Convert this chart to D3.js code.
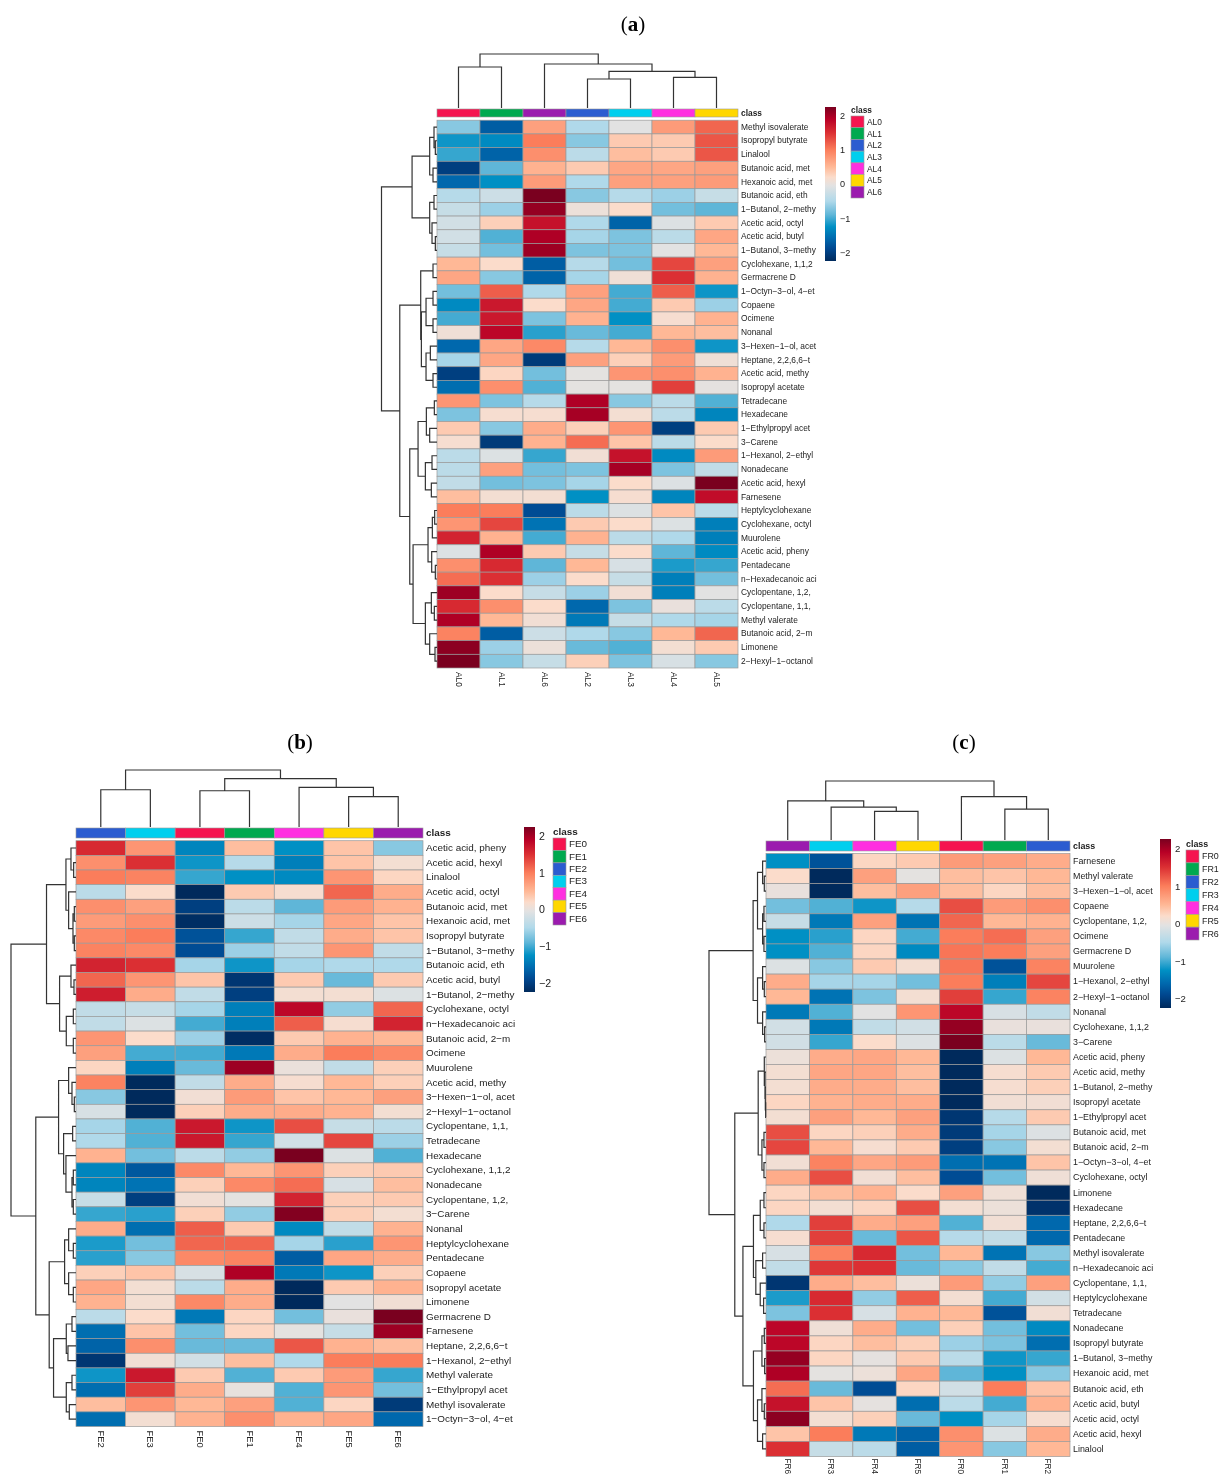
<!DOCTYPE html>
<html>
<head>
<meta charset="utf-8">
<script src="https://cdn.jsdelivr.net/npm/d3@7"></script>
<style>
  html, body { margin: 0; background: #fff; }
  svg { display: block; filter: blur(0.45px); }
  text { font-family: "Liberation Sans", Arial, sans-serif; fill: #222; }
  .title { font-family: "Liberation Serif", serif; font-size: 21px; fill: #000; }
</style>
</head>
<body>
<div id="graph"></div>
<script>
"use strict";

// Panel a
const alCols = ["AL0", "AL1", "AL6", "AL2", "AL3", "AL4", "AL5"];
const alRows = ["Methyl isovalerate", "Isopropyl butyrate", "Linalool", "Butanoic acid, met", "Hexanoic acid, met", "Butanoic acid, eth", "1−Butanol, 2−methy", "Acetic acid, octyl", "Acetic acid, butyl", "1−Butanol, 3−methy", "Cyclohexane, 1,1,2", "Germacrene D", "1−Octyn−3−ol, 4−et", "Copaene", "Ocimene", "Nonanal", "3−Hexen−1−ol, acet", "Heptane, 2,2,6,6−t", "Acetic acid, methy", "Isopropyl acetate", "Tetradecane", "Hexadecane", "1−Ethylpropyl acet", "3−Carene", "1−Hexanol, 2−ethyl", "Nonadecane", "Acetic acid, hexyl", "Farnesene", "Heptylcyclohexane", "Cyclohexane, octyl", "Muurolene", "Acetic acid, pheny", "Pentadecane", "n−Hexadecanoic aci", "Cyclopentane, 1,2,", "Cyclopentane, 1,1,", "Methyl valerate", "Butanoic acid, 2−m", "Limonene", "2−Hexyl−1−octanol"];
const alValues = [
  [-0.7, -1.7, 0.7, -0.5, -0.05, 0.75, 1.15],
  [-1.2, -1.3, 1.0, -0.7, 0.35, 0.35, 1.25],
  [-1.05, -1.65, 0.85, -0.4, 0.45, 0.35, 1.25],
  [-2.0, -0.9, 0.55, 0.35, 0.65, 0.65, 0.7],
  [-1.6, -1.25, 0.75, -0.5, 0.7, 0.7, 0.75],
  [-0.45, -0.25, 2.3, -0.7, -0.45, -0.6, -0.3],
  [-0.3, -0.6, 2.1, 0.05, 0.2, -0.8, -0.9],
  [-0.2, 0.3, 1.75, -0.5, -1.65, -0.1, 0.35],
  [-0.2, -0.95, 1.95, -0.55, -0.75, -0.4, 0.65],
  [-0.3, -0.8, 2.05, -0.75, -0.75, -0.05, 0.5],
  [0.5, 0.2, -1.7, -0.45, -0.8, 1.35, 0.7],
  [0.65, -0.7, -1.65, -0.55, 0.08, 1.5, 0.55],
  [-0.8, 1.2, -0.5, 0.7, -1.0, 1.2, -1.2],
  [-1.3, 1.7, 0.2, 0.65, -1.0, 0.35, -0.6],
  [-1.0, 1.7, -0.75, 0.55, -1.25, 0.15, 0.55],
  [0.08, 1.85, -1.1, -0.85, -1.0, 0.5, 0.45],
  [-1.6, 0.65, 0.9, -0.45, 0.5, 0.85, -1.2],
  [-0.55, 0.65, -2.05, 0.7, 0.3, 0.75, 0.08],
  [-2.0, 0.25, -0.8, -0.03, 0.8, 0.85, 0.55],
  [-1.55, 0.85, -0.95, -0.03, -0.03, 1.4, -0.02],
  [0.8, -0.75, -0.45, 1.95, -0.7, -0.4, -0.95],
  [-0.75, 0.15, 0.15, 2.0, 0.12, -0.4, -1.35],
  [0.35, -0.7, 0.6, 0.3, 0.8, -2.0, 0.35],
  [0.15, -2.05, 0.55, 1.1, 0.4, -0.4, 0.2],
  [-0.4, -0.1, -1.05, 0.1, 1.75, -1.3, 0.75],
  [-0.4, 0.7, -0.8, -0.75, 2.0, -0.75, -0.35],
  [-0.35, -0.8, -0.75, -0.55, 0.2, -0.1, 2.3],
  [0.45, 0.12, 0.12, -1.25, 0.15, -1.35, 1.8],
  [1.0, 1.0, -1.85, -0.4, -0.1, 0.4, -0.4],
  [0.8, 1.35, -1.5, 0.35, 0.2, -0.1, -1.4],
  [1.6, 0.55, -1.0, 0.55, -0.4, -0.5, -1.4],
  [-0.1, 1.95, 0.35, -0.3, 0.2, -0.9, -1.3],
  [0.85, 1.55, -0.9, 0.5, -0.15, -1.15, -1.05],
  [1.1, 1.5, -0.6, 0.2, -0.3, -1.4, -0.8],
  [2.05, 0.2, -0.3, -0.6, 0.1, -1.4, -0.05],
  [1.55, 0.85, 0.2, -1.6, -0.75, 0.02, -0.4],
  [1.95, 0.5, 0.1, -1.45, -0.3, -0.5, -0.55],
  [0.95, -1.7, -0.25, -0.5, -0.7, 0.5, 1.15],
  [2.15, -0.6, 0.05, -0.85, -0.95, 0.12, 0.35],
  [2.3, -0.7, -0.3, 0.3, -0.75, -0.15, -0.7],
];
// trees are [height, left, right], a number is a 1-based leaf index
const alRowTree = [167,
  [75,
    [22, [9, 1, [5, 2, 3]], [12, 4, 5]],
    [22, [9, 6, 7], [15, 8, [5, 9, 10]]]],
  [112,
    [49, [12, 11, 12],
      [47, [33, [12, 13, 14], [12, 15, 16]], [33, [20, 17, 18], [12, 19, 20]]]],
    [82,
      [57, [32, [8, 21, 22], [22, 23, 24]], [35, [15, 25, 26], [17, 27, 28]]],
      [72,
        [27, [14, [7, 29, 30], 31], [16, 32, [5, 33, 34]]],
        [35, [17, 35, [8, 36, 37]], [22, 38, [6, 39, 40]]]]]]];
const alColTree = [162, [123, 1, 2], [132, 3, [110, [87, 4, 5], [92, 6, 7]]]];

// Panel b
const feCols = ["FE2", "FE3", "FE0", "FE1", "FE4", "FE5", "FE6"];
const feRows = ["Acetic acid, pheny", "Acetic acid, hexyl", "Linalool", "Acetic acid, octyl", "Butanoic acid, met", "Hexanoic acid, met", "Isopropyl butyrate", "1−Butanol, 3−methy", "Butanoic acid, eth", "Acetic acid, butyl", "1−Butanol, 2−methy", "Cyclohexane, octyl", "n−Hexadecanoic aci", "Butanoic acid, 2−m", "Ocimene", "Muurolene", "Acetic acid, methy", "3−Hexen−1−ol, acet", "2−Hexyl−1−octanol", "Cyclopentane, 1,1,", "Tetradecane", "Hexadecane", "Cyclohexane, 1,1,2", "Nonadecane", "Cyclopentane, 1,2,", "3−Carene", "Nonanal", "Heptylcyclohexane", "Pentadecane", "Copaene", "Isopropyl acetate", "Limonene", "Germacrene D", "Farnesene", "Heptane, 2,2,6,6−t", "1−Hexanol, 2−ethyl", "Methyl valerate", "1−Ethylpropyl acet", "Methyl isovalerate", "1−Octyn−3−ol, 4−et"];
const feValues = [
  [1.55, 0.8, -1.35, 0.45, -1.25, 0.4, -0.7],
  [0.85, 1.5, -1.2, -0.45, -1.4, 0.4, 0.12],
  [1.0, 0.95, -1.05, -1.25, -1.3, 0.8, 0.25],
  [-0.4, 0.2, -2.25, 0.35, 0.15, 1.15, 0.6],
  [0.85, 0.7, -2.0, -0.4, -0.9, 0.75, 0.55],
  [0.75, 0.85, -2.2, -0.25, -0.55, 0.65, 0.4],
  [0.9, 1.0, -1.8, -1.05, -0.35, 0.6, 0.4],
  [0.95, 0.9, -1.85, -0.6, -0.35, 0.8, -0.35],
  [1.6, 1.5, -0.55, -1.2, -0.55, -0.5, -0.5],
  [1.15, 0.8, 0.4, -2.1, 0.35, -0.85, 0.35],
  [1.65, 0.6, -0.35, -2.0, 0.12, 0.12, -0.1],
  [-0.35, -0.3, -0.55, -1.4, 1.85, -0.65, 1.15],
  [-0.35, -0.1, -1.0, -1.4, 1.2, 0.15, 1.6],
  [0.8, 0.2, -0.6, -2.2, 0.35, 0.55, 0.5],
  [0.7, -1.0, -1.0, -1.45, 0.6, 1.0, 0.9],
  [0.25, -1.4, -0.85, 2.05, 0.03, -0.35, 0.3],
  [0.95, -2.3, -0.35, 0.6, 0.15, 0.5, 0.3],
  [-0.7, -2.3, 0.1, 0.75, 0.4, 0.5, 0.7],
  [-0.15, -2.3, 0.3, 0.6, 0.6, 0.55, 0.12],
  [-0.55, -0.95, 1.7, -1.2, 1.3, -0.3, -0.4],
  [-0.5, -0.95, 1.7, -1.05, -0.2, 1.35, -0.6],
  [0.55, -0.8, -0.4, -0.65, 2.25, -0.1, -0.95],
  [-1.35, -1.75, 0.9, 0.5, 0.8, 0.3, 0.35],
  [-1.35, -1.5, 0.3, 0.9, 1.1, -0.15, 0.45],
  [-0.3, -2.0, 0.1, -0.03, 1.6, 0.3, 0.35],
  [-1.05, -1.1, 0.3, -0.65, 2.2, 0.3, 0.12],
  [0.6, -1.55, 1.2, 0.35, -1.3, -0.35, 0.55],
  [-1.15, -0.8, 1.15, 1.15, -0.55, -1.1, 0.8],
  [-1.1, -0.7, 0.9, 0.95, -1.7, 0.65, 0.6],
  [0.3, 0.4, -0.15, 1.95, -1.45, -1.2, 0.3],
  [0.65, 0.12, -0.4, 0.6, -2.25, 0.35, 0.55],
  [0.55, 0.12, 0.9, 0.6, -2.3, -0.05, 0.1],
  [-0.4, 0.2, -1.45, 0.25, -0.8, 0.02, 2.3],
  [-1.55, 0.4, -0.8, 0.25, -0.03, -0.3, 2.05],
  [-1.65, 0.85, -0.85, -0.85, 1.25, 0.55, 0.45],
  [-2.1, 0.1, -0.2, 0.45, -0.5, 1.0, 1.0],
  [-1.2, 1.7, 0.35, -0.95, 0.35, 0.75, -1.05],
  [-1.55, 1.4, 0.6, 0.0, -0.95, 0.8, -0.8],
  [0.45, 0.8, 0.5, 0.7, -0.95, 0.25, -2.05],
  [-1.55, 0.12, 0.55, 0.85, 0.55, 0.65, -1.6],
];
const feRowTree = [194,
  [88,
    [30, [15, 1, [7, 2, 3]], [22, 4, [9, [5, 5, 6], [5, 7, 8]]]],
    [49, [15, 9, [6, 10, 11]], [29, [8, 12, 13], [8, 14, 15]]]],
  [120,
    [52,
      [22, 16, [12, 17, [5, 18, 19]]],
      [37, [10, 20, 21], [30, 22, [12, [8, 23, 24], [8, 25, 26]]]]],
    [80,
      [34, [22, 27, [8, 28, 29]], [22, 30, [8, 31, 32]]],
      [67, [29, [12, 33, 34], [24, 35, 36]], [29, [12, 37, 38], [20, 39, 40]]]]]];
const feColTree = [173, [113, 1, 2], [147, [110, 3, 4], [120, 5, [92, 6, 7]]]];

// Panel c
const frCols = ["FR6", "FR3", "FR4", "FR5", "FR0", "FR1", "FR2"];
const frRows = ["Farnesene", "Methyl valerate", "3−Hexen−1−ol, acet", "Copaene", "Cyclopentane, 1,2,", "Ocimene", "Germacrene D", "Muurolene", "1−Hexanol, 2−ethyl", "2−Hexyl−1−octanol", "Nonanal", "Cyclohexane, 1,1,2", "3−Carene", "Acetic acid, pheny", "Acetic acid, methy", "1−Butanol, 2−methy", "Isopropyl acetate", "1−Ethylpropyl acet", "Butanoic acid, met", "Butanoic acid, 2−m", "1−Octyn−3−ol, 4−et", "Cyclohexane, octyl", "Limonene", "Hexadecane", "Heptane, 2,2,6,6−t", "Pentadecane", "Methyl isovalerate", "n−Hexadecanoic aci", "Cyclopentane, 1,1,", "Heptylcyclohexane", "Tetradecane", "Nonadecane", "Isopropyl butyrate", "1−Butanol, 3−methy", "Hexanoic acid, met", "Butanoic acid, eth", "Acetic acid, butyl", "Acetic acid, octyl", "Acetic acid, hexyl", "Linalool"];
const frValues = [
  [-1.25, -1.8, 0.25, 0.35, 0.75, 0.7, 0.6],
  [0.2, -2.3, 0.7, -0.03, 0.45, 0.4, 0.5],
  [0.02, -2.3, 0.45, 0.7, 0.45, 0.25, 0.45],
  [-0.8, -0.95, -1.2, -0.45, 1.3, 0.75, 0.85],
  [-0.3, -1.45, 0.7, -1.5, 1.15, 0.5, 0.55],
  [-1.25, -1.1, 0.25, -1.0, 1.0, 1.1, 0.7],
  [-1.25, -0.95, 0.25, -1.3, 1.05, 1.0, 0.7],
  [-0.1, -0.7, 0.35, 0.12, 1.05, -1.8, 0.95],
  [0.6, -0.55, -0.55, -0.8, 1.0, -1.4, 1.35],
  [0.5, -1.5, -0.75, 0.12, 1.4, -1.05, 0.95],
  [-1.45, -0.95, -0.05, 0.8, 1.85, -0.15, -0.35],
  [-0.2, -1.45, -0.35, -0.2, 2.1, 0.02, 0.02],
  [-0.2, -1.05, 0.2, -0.1, 2.25, -0.4, -0.85],
  [0.05, 0.6, 0.65, 0.5, -2.3, -0.1, 0.5],
  [0.12, 0.65, 0.65, 0.45, -2.3, 0.15, 0.35],
  [0.12, 0.6, 0.6, 0.45, -2.3, 0.15, 0.3],
  [0.25, 0.55, 0.6, 0.6, -2.3, 0.1, 0.1],
  [0.12, 0.7, 0.5, 0.7, -2.1, -0.45, 0.35],
  [1.3, 0.25, 0.3, 0.6, -2.05, -0.55, -0.1],
  [1.35, 0.5, 0.15, 0.35, -2.0, -0.7, 0.12],
  [0.1, 0.95, 0.65, 0.75, -1.55, -1.5, 0.4],
  [0.6, 1.3, 0.1, 0.45, -1.85, -0.8, 0.08],
  [0.25, 0.45, 0.55, 0.2, 0.7, 0.08, -2.3],
  [0.25, 0.12, 0.25, 1.3, 0.12, 0.05, -2.15],
  [-0.5, 1.4, 0.6, 0.7, -0.95, 0.1, -1.6],
  [0.15, 1.4, -0.85, 1.25, -0.45, -0.35, -1.6],
  [-0.15, 0.95, 1.55, -0.8, 0.5, -1.5, -0.7],
  [-0.35, 1.45, 1.5, -0.85, -0.7, -0.35, -1.0],
  [-2.1, 0.6, 0.45, 0.05, 0.75, -0.65, 0.7],
  [-1.15, 1.55, -0.65, 1.2, 0.12, -1.0, -0.2],
  [-0.75, 1.5, -0.15, 0.55, 0.5, -1.8, 0.1],
  [1.85, 0.08, 0.6, -0.8, 0.3, -0.8, -1.3],
  [1.85, 0.25, 0.45, 0.3, -0.6, -0.75, -1.55],
  [2.1, 0.25, -0.02, 0.35, -0.4, -1.2, -1.05],
  [1.95, -0.03, 0.05, 0.65, -0.9, -1.25, -0.7],
  [1.1, -0.85, -1.85, 0.25, -0.2, 1.0, 0.4],
  [1.75, 0.4, -0.02, -1.55, -0.4, -1.0, 0.55],
  [2.15, 0.12, 0.3, -0.85, -1.25, -0.55, 0.15],
  [0.4, 1.0, -1.45, -1.65, 0.85, -0.1, 0.6],
  [1.5, -0.3, -0.4, -1.7, 0.8, -0.7, 0.5],
];
const frRowTree = [168,
  [38,
    [25, [10, 1, [5, 2, 3]], [10, [6, 4, 5], [6, 6, 7]]],
    [25, [10, 8, [5, 9, 10]], [10, 11, [4, 12, 13]]]],
  [92,
    [23, [5, 14, [3, 15, [2, 16, [1, 17, 18]]]], [12, [6, 19, 20], [6, 21, 22]]],
    [68,
      [37, [17, [6, 23, 24], [6, 25, 26]], [30, [10, 27, 28], [17, 29, [7, 30, 31]]]],
      [37, [12, [5, 32, 33], [4, 34, 35]], [25, [12, 36, [5, 37, 38]], [10, 39, 40]]]]]];
const frColTree = [181, [120, 1, [101, 2, [88, 3, 4]]], [133, 5, [95, 6, 7]]];

// Colour ramp
const rampValues = [-2.25, -1.9, -1.6, -1.25, -0.9, -0.5, -0.05, 0.2, 0.5, 1.0, 1.5, 1.9, 2.25];
const rampColors = ["#002a5c", "#00478f", "#0068ad", "#0090c4", "#5fb6d8", "#b0d9ea", "#e2e2e2", "#fbdccb", "#ffb896", "#fb7d5b", "#db2f33", "#b80026", "#7a001f"];
const color = d3.scaleLinear().domain(rampValues).range(rampColors).clamp(true);

// Class colours, shared by the three panels (index is the digit of the name)
const classColors = ["#f5144f", "#00a94f", "#2b5cd0", "#00cfee", "#ff2fe0", "#ffd700", "#9b1bae"];

const svg = d3.select("#graph").append("svg").attr("width", 1219).attr("height", 1475);

// defs for the colour bar, top of the bar is the high end
const gradient = svg.append("defs").append("linearGradient")
  .attr("id", "ramp").attr("x1", 0).attr("x2", 0).attr("y1", 0).attr("y2", 1);
[...rampValues].reverse().forEach((v) => {
  gradient.append("stop")
    .attr("offset", (2.25 - v) / 4.5)
    .attr("stop-color", color(v));
});

// Walk a tree and return the position of its stem, pushing elbows on the path
const drawTree = (node, leafPos, heightPos, path, horizontal) => {
  if (typeof node === "number") return { pos: leafPos(node), h: heightPos(0) };
  const [height, left, right] = node;
  const a = drawTree(left, leafPos, heightPos, path, horizontal);
  const b = drawTree(right, leafPos, heightPos, path, horizontal);
  const h = heightPos(height);
  if (horizontal) {
    path.moveTo(a.pos, a.h);
    path.lineTo(a.pos, h);
    path.lineTo(b.pos, h);
    path.lineTo(b.pos, b.h);
  } else {
    path.moveTo(a.h, a.pos);
    path.lineTo(h, a.pos);
    path.lineTo(h, b.pos);
    path.lineTo(b.h, b.pos);
  }
  return { pos: (a.pos + b.pos) / 2, h };
};

const drawPanel = (p) => {
  const g = svg.append("g");
  const x = d3.scaleBand().domain(p.cols).range([p.left, p.right]);
  const y = d3.scaleBand().domain(p.rows).range([p.top, p.bottom]);

  // cells
  p.rows.forEach((row, i) => {
    g.append("g").selectAll("rect")
      .data(p.values[i])
      .enter()
      .append("rect")
      .attr("x", (d, j) => x(p.cols[j]))
      .attr("y", y(row))
      .attr("width", x.bandwidth())
      .attr("height", y.bandwidth())
      .attr("fill", (d) => color(d))
      .attr("stroke", "#9a9a9a")
      .attr("stroke-width", 0.7);
  });

  // class bar
  g.append("g").selectAll("rect")
    .data(p.cols)
    .enter()
    .append("rect")
    .attr("x", (d) => x(d))
    .attr("y", p.annTop)
    .attr("width", x.bandwidth())
    .attr("height", p.annBottom - p.annTop)
    .attr("fill", (d) => classColors[+d[2]])
    .attr("stroke", "#9a9a9a")
    .attr("stroke-width", 0.6);

  g.append("text")
    .attr("x", p.right + 3)
    .attr("y", (p.annTop + p.annBottom) / 2 + 3)
    .attr("font-size", p.fontSize)
    .attr("font-weight", "bold")
    .text("class");

  // row labels with the axis, no line
  const rowAxis = g.append("g")
    .attr("transform", `translate(${p.right + 3}, 0)`)
    .call(d3.axisRight(y).tickSize(0).tickPadding(0));
  rowAxis.select(".domain").remove();
  rowAxis.selectAll("text").attr("font-size", p.fontSize).style("font-family", null);

  // column labels
  g.append("g").selectAll("text")
    .data(p.cols)
    .enter()
    .append("text")
    .attr("transform", (d) => `translate(${x(d) + x.bandwidth() / 2 - 3}, ${p.bottom + p.colGap}) rotate(90)`)
    .attr("font-size", p.colFontSize)
    .text((d) => d);

  // dendrograms
  const rowHeight = d3.scaleLinear().domain([0, p.rowTree[0]]).range([p.left, p.rowRoot]);
  const rowPath = d3.path();
  drawTree(p.rowTree, (n) => y(p.rows[n - 1]) + y.bandwidth() / 2, rowHeight, rowPath, false);
  g.append("path").attr("d", rowPath.toString()).attr("fill", "none").attr("stroke", "#333").attr("stroke-width", 1.2);

  const colHeight = d3.scaleLinear().domain([0, p.colTree[0]]).range([p.annTop - 1, p.colRoot]);
  const colPath = d3.path();
  drawTree(p.colTree, (n) => x(p.cols[n - 1]) + x.bandwidth() / 2, colHeight, colPath, true);
  g.append("path").attr("d", colPath.toString()).attr("fill", "none").attr("stroke", "#333").attr("stroke-width", 1.2);

  // colour bar
  g.append("rect")
    .attr("x", p.barX)
    .attr("y", p.barTop)
    .attr("width", p.barWidth)
    .attr("height", p.barBottom - p.barTop)
    .attr("fill", "url(#ramp)");

  const barScale = d3.scaleLinear().domain([-2.25, 2.25]).range([p.barBottom, p.barTop]);
  const barAxis = g.append("g")
    .attr("transform", `translate(${p.barX + p.barWidth + 4}, 0)`)
    .call(d3.axisRight(barScale).tickValues([-2, -1, 0, 1, 2]).tickFormat(d3.format("d")).tickSize(0).tickPadding(0));
  barAxis.select(".domain").remove();
  barAxis.selectAll("text").attr("font-size", p.fontSize + 0.7).style("font-family", null);

  // class legend
  g.append("text")
    .attr("x", p.legendX)
    .attr("y", p.legendTop - 3)
    .attr("font-size", p.fontSize)
    .attr("font-weight", "bold")
    .text("class");

  const keys = [...p.cols].sort();
  const legendY = d3.scaleBand().domain(keys).range([p.legendTop, p.legendBottom]);
  const items = g.append("g").selectAll("g")
    .data(keys)
    .enter()
    .append("g")
    .attr("transform", (d) => `translate(${p.legendX}, ${legendY(d)})`);
  items.append("rect")
    .attr("width", p.swatch)
    .attr("height", legendY.bandwidth())
    .attr("fill", (d) => classColors[+d[2]])
    .attr("stroke", "#9a9a9a")
    .attr("stroke-width", 0.6);
  items.append("text")
    .attr("x", p.swatch + 3)
    .attr("y", legendY.bandwidth() / 2 + 3)
    .attr("font-size", p.fontSize)
    .text((d) => d);

  // panel letter
  const title = svg.append("text").attr("class", "title")
    .attr("x", p.titleX).attr("y", p.titleY).attr("text-anchor", "middle");
  title.append("tspan").text("(");
  title.append("tspan").attr("font-weight", "bold").text(p.letter);
  title.append("tspan").text(")");
};

drawPanel({
  letter: "a", titleX: 633, titleY: 31,
  cols: alCols, rows: alRows, values: alValues, rowTree: alRowTree, colTree: alColTree,
  left: 437, right: 738, top: 120.2, bottom: 668,
  annTop: 109, annBottom: 117, rowRoot: 381.5, colRoot: 54, fontSize: 8.4, colFontSize: 8.4, colGap: 4,
  barX: 825, barWidth: 11, barTop: 107, barBottom: 261,
  legendX: 851, legendTop: 116, legendBottom: 198, swatch: 13,
});

drawPanel({
  letter: "b", titleX: 300, titleY: 749,
  cols: feCols, rows: feRows, values: feValues, rowTree: feRowTree, colTree: feColTree,
  left: 76, right: 423, top: 840.7, bottom: 1426.5,
  annTop: 828, annBottom: 838, rowRoot: 11, colRoot: 770, fontSize: 9.9, colFontSize: 9.4, colGap: 4,
  barX: 524, barWidth: 11, barTop: 827, barBottom: 992,
  legendX: 553, legendTop: 838, legendBottom: 925, swatch: 13,
});

// labels under panel c sit right at the page edge, so a smaller size keeps them whole
drawPanel({
  letter: "c", titleX: 964, titleY: 749,
  cols: frCols, rows: frRows, values: frValues, rowTree: frRowTree, colTree: frColTree,
  left: 766, right: 1070, top: 853.5, bottom: 1456.5,
  annTop: 841, annBottom: 851, rowRoot: 709, colRoot: 781, fontSize: 8.9, colFontSize: 8.2, colGap: 2,
  barX: 1160, barWidth: 11, barTop: 839, barBottom: 1008,
  legendX: 1186, legendTop: 850, legendBottom: 940, swatch: 13,
});
</script>
</body>
</html>
